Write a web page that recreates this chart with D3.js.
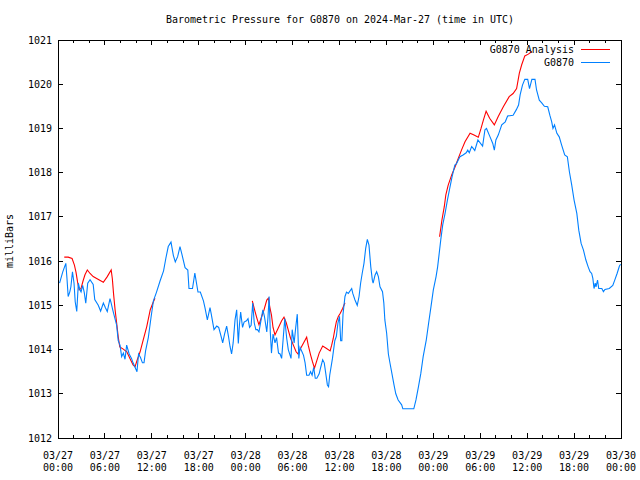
<!DOCTYPE html>
<html>
<head>
<meta charset="utf-8">
<script src="https://cdn.jsdelivr.net/npm/d3@7"></script>
<style>
  body { margin: 0; background: #fff; }
  text { font-family: "DejaVu Sans Mono", monospace; font-size: 10px; fill: #000; }
</style>
</head>
<body>
<div id="vis"></div>
<script>
// hours since 2024-03-27 00:00 UTC, pressure in mb
const stationHours = [0.2,0.6,1.0,1.15,1.3,1.5,1.65,1.85,2.05,2.2,2.4,2.6,2.8,2.95,3.15,3.35,3.55,3.8,4.1,4.5,4.7,5.15,5.45,5.8,6.05,6.3,6.65,6.8,7.0,7.5,7.7,7.93,8.14,8.36,8.57,8.78,9.1,9.4,9.6,9.85,10.1,10.3,10.55,10.8,11.0,11.2,11.55,11.9,12.2,12.6,13.05,13.5,13.8,14.1,14.45,14.75,15.0,15.3,15.6,15.85,16.25,16.6,16.75,17.2,17.5,17.9,18.2,18.6,18.8,
  19.1,19.44,19.6,19.95,20.3,20.55,20.9,21.06,21.3,21.57,21.8,22.0,22.2,22.4,22.64,22.85,23.06,23.2,23.36,23.6,23.8,24.1,24.3,24.5,24.7,24.9,25.1,25.3,25.5,25.7,26.0,26.2,26.4,26.7,26.85,27.0,27.15,27.3,27.5,27.75,27.95,28.2,28.4,28.6,28.8,29.0,29.25,29.45,29.8,29.95,30.2,30.4,30.6,30.8,30.95,31.2,31.4,31.6,31.8,32.1,32.3,32.5,32.7,32.9,33.1,33.4,33.6,33.85,34.05,34.25,34.45,34.6,34.75,35.1,35.4,35.6,35.8,36.0,36.15,36.3,36.45,36.7,36.9,
  37.13,37.56,37.7,37.98,38.27,38.5,38.7,38.9,39.13,39.35,39.56,39.77,40.0,40.2,40.3,40.54,40.75,40.97,41.18,41.5,41.67,41.8,42.03,42.25,42.46,42.7,42.97,43.2,43.5,43.95,44.1,45.5,45.78,46.1,46.4,46.7,47.1,47.4,47.7,48.0,48.35,48.55,48.8,48.95,49.2,49.5,49.8,50.1,50.4,50.75,50.95,51.4,51.8,52.2,52.4,52.6,52.9,53.1,53.3,53.5,53.7,54.3,54.6,54.8,
  55.25,55.6,55.8,56.0,56.3,56.75,57.2,57.5,58.2,58.6,58.9,59.1,59.4,59.7,60.07,60.3,60.6,61.0,61.2,61.55,61.86,62.2,62.63,62.9,63.14,63.3,63.5,63.8,64.1,64.4,64.8,65.14,65.4,65.7,66.0,66.35,66.6,66.9,67.2,67.5,67.8,68.04,68.25,68.4,68.55,68.7,68.8,69.0,69.15,69.55,69.75,69.95,70.5,70.95,71.2,71.5,71.8,71.95]
const stationPress = [1015.5,1015.75,1015.95,1015.6,1015.2,1015.3,1015.42,1015.76,1015.5,1015.08,1014.86,1015.5,1015.35,1015.3,1015.45,1015.3,1015.05,1015.5,1015.58,1015.47,1015.13,1015.0,1014.87,1015.05,1014.95,1014.86,1015.15,1015.05,1014.9,1014.55,1014.2,1014.1,1013.84,1013.92,1013.78,1014.1,1013.9,1013.8,1013.7,1013.6,1013.5,1013.9,1013.82,1013.7,1013.7,1013.97,1014.27,1014.73,1015.1,1015.3,1015.55,1015.78,1016.07,1016.33,1016.43,1016.13,1015.98,1016.1,1016.33,1016.15,1015.85,1015.8,1015.38,1015.38,1015.73,1015.3,1015.3,1015.1,1014.94,
  1014.67,1014.95,1014.8,1014.45,1014.53,1014.5,1014.27,1014.15,1014.35,1014.53,1014.3,1014.07,1013.9,1014.15,1014.67,1014.9,1014.14,1014.55,1014.85,1014.5,1014.62,1014.65,1014.7,1014.5,1014.55,1015.05,1014.6,1014.45,1014.45,1014.4,1014.7,1014.9,1014.75,1014.4,1014.72,1015.2,1014.4,1013.92,1014.35,1014.15,1014.27,1013.92,1013.9,1013.8,1014.25,1014.7,1014.25,1014.0,1013.8,1014.45,1014.15,1014.5,1014.8,1013.8,1014.05,1013.95,1013.87,1013.7,1013.42,1013.42,1013.5,1013.42,1013.6,1013.35,1013.35,1013.45,1013.6,1013.77,1013.7,1013.45,1013.2,1013.16,1013.42,1013.8,1014.2,1014.3,1014.6,1014.75,1014.2,1014.2,1014.8,1015.2,1015.3,
  1015.27,1015.38,1015.27,1015.12,1015.0,1015.2,1015.5,1015.72,1015.95,1016.29,1016.49,1016.36,1015.87,1015.57,1015.5,1015.68,1015.76,1015.65,1015.42,1015.31,1015.05,1014.67,1014.37,1013.9,1013.69,1013.46,1013.2,1013.0,1012.86,1012.75,1012.66,1012.66,1012.86,1013.16,1013.46,1013.84,1014.22,1014.6,1014.97,1015.35,1015.65,1015.87,1016.25,1016.48,1016.82,1017.08,1017.38,1017.65,1017.91,1018.17,1018.2,1018.36,1018.4,1018.45,1018.51,1018.45,1018.59,1018.55,1018.5,1018.62,1018.74,1018.6,1018.97,1019.0,
  1018.81,1018.66,1018.51,1018.74,1018.85,1019.08,1019.15,1019.28,1019.3,1019.42,1019.53,1019.76,1019.98,1020.11,1020.11,1019.9,1020.11,1020.11,1019.87,1019.64,1019.58,1019.5,1019.49,1019.3,1019.15,1019.0,1019.08,1018.89,1018.81,1018.63,1018.4,1018.36,1018.02,1017.72,1017.38,1017.08,1016.7,1016.4,1016.25,1016.03,1015.87,1015.76,1015.72,1015.61,1015.38,1015.5,1015.42,1015.57,1015.38,1015.38,1015.31,1015.36,1015.38,1015.45,1015.57,1015.72,1015.89,1015.93]

// analysis series, null = gap
const analysisHours = [0.8,1.3,1.8,2.1,2.3,2.5,2.7,2.94,3.2,3.45,3.75,4.1,4.5,5.0,5.8,6.3,6.8,6.95,7.1,7.3,7.5,7.7,7.9,8.35,8.8,9.2,9.6,9.85,10.1,10.5,10.9,11.35,11.8,12.2,12.4,
  18.0,
  24.85,25.2,25.45,25.7,26.0,26.35,26.7,26.9,27.1,27.3,27.5,27.75,28.2,28.6,28.9,29.2,29.45,29.75,30.1,30.45,30.7,31.0,31.4,31.8,32.0,32.3,32.55,32.8,33.1,33.4,33.85,34.3,34.8,35.0,35.2,35.4,35.6,35.85,36.1,36.4,36.7,
  42.0,
  48.8,49.1,49.4,49.6,49.9,50.35,50.8,51.2,51.6,52.05,52.7,53.2,53.75,54.1,54.4,54.75,55.2,55.8,56.3,56.95,57.7,58.2,58.65,59.0,59.3,59.7,60.15,60.6]
const analysisPress = [1016.09,1016.09,1016.06,1015.91,1015.75,1015.53,1015.35,1015.38,1015.55,1015.69,1015.8,1015.72,1015.65,1015.6,1015.52,1015.65,1015.8,1015.6,1015.27,1014.9,1014.6,1014.29,1014.06,1014.01,1013.95,1013.8,1013.65,1013.61,1013.75,1013.95,1014.22,1014.52,1014.9,1015.08,1015.16,
  null,
  1015.1,1014.86,1014.7,1014.56,1014.72,1014.9,1015.12,1015.16,1014.95,1014.78,1014.5,1014.33,1014.5,1014.65,1014.73,1014.6,1014.44,1014.25,1014.1,1013.95,1013.9,1014.02,1014.15,1014.28,1014.1,1013.88,1013.72,1013.58,1013.75,1013.92,1014.08,1014.03,1013.97,1014.1,1014.25,1014.45,1014.63,1014.75,1014.82,1014.93,1015.06,
  null,
  1016.55,1016.93,1017.23,1017.5,1017.72,1017.95,1018.14,1018.33,1018.51,1018.7,1018.89,1018.85,1018.8,1019.0,1019.19,1019.39,1019.23,1019.08,1019.27,1019.49,1019.72,1019.79,1019.9,1020.25,1020.44,1020.64,1020.68,1020.74]

const yTicks = [1012,1013,1014,1015,1016,1017,1018,1019,1020,1021]

const width = 640
const height = 480
const margin = ({ top: 40, right: 19, bottom: 42, left: 58 })
const t0 = Date.UTC(2024, 2, 27)
const toDate = h => new Date(t0 + h * 3600e3)

const x = d3.scaleUtc()
  .domain([toDate(0), toDate(72)])
  .range([margin.left, width - margin.right])

const y = d3.scaleLinear()
  .domain([1012, 1021])
  .range([height - margin.bottom, margin.top])

const svg = d3.select("#vis").append("svg")
  .attr("width", width)
  .attr("height", height)

// title
svg.append("text")
  .attr("x", 340)
  .attr("y", 23)
  .attr("text-anchor", "middle")
  .attr("textLength", 348)
  .attr("lengthAdjust", "spacingAndGlyphs")
  .text("Barometric Pressure for G0870 on 2024-Mar-27 (time in UTC)")

// y label
svg.append("text")
  .attr("transform", "translate(13,241) rotate(-90)")
  .attr("text-anchor", "middle")
  .text("milliBars")

const ticks = svg.append("g")
  .attr("stroke", "#000")
  .attr("shape-rendering", "crispEdges")

// x ticks, major every 6h, minor every 2h, mirrored on top
const minor = d3.range(0, 73, 2).filter(h => h % 6 != 0).map(toDate)
const major = d3.range(0, 73, 6).map(toDate)
ticks.selectAll(".xmin")
  .data(minor)
  .join("path")
  .attr("d", d => `M${x(d)},${y(1012)}v-3M${x(d)},${y(1021)}v3`)
ticks.selectAll(".xmaj")
  .data(major)
  .join("path")
  .attr("d", d => `M${x(d)},${y(1012)}v-5M${x(d)},${y(1021)}v5`)
ticks.selectAll(".ytick")
  .data(yTicks)
  .join("path")
  .attr("d", d => `M${margin.left},${y(d)}h5M${width - margin.right},${y(d)}h-5`)

// frame
svg.append("rect")
  .attr("x", margin.left)
  .attr("y", margin.top)
  .attr("width", width - margin.left - margin.right)
  .attr("height", height - margin.top - margin.bottom)
  .attr("fill", "none")
  .attr("stroke", "#000")
  .attr("shape-rendering", "crispEdges")

// y tick labels
svg.append("g")
  .selectAll("text")
  .data(yTicks)
  .join("text")
  .attr("x", margin.left - 6)
  .attr("y", d => y(d))
  .attr("dy", "0.35em")
  .attr("text-anchor", "end")
  .text(d => d)

// x tick labels, two lines
const fmtDay = d3.utcFormat("%m/%d")
const fmtTime = d3.utcFormat("%H:%M")
const xl = svg.append("g")
  .selectAll("text")
  .data(major)
  .join("text")
  .attr("text-anchor", "middle")
  .attr("y", 459)
xl.append("tspan").attr("x", d => x(d)).text(d => fmtDay(d))
xl.append("tspan").attr("x", d => x(d)).attr("dy", 12).text(d => fmtTime(d))

const line = d3.line()
  .defined(d => d[1] != null)
  .x(d => x(toDate(d[0])))
  .y(d => y(d[1]))

const analysis = analysisHours.map((h, i) => [h, analysisPress[i]])
const station = stationHours.map((h, i) => [h, stationPress[i]])

svg.append("path")
  .datum(analysis)
  .attr("fill", "none")
  .attr("stroke", "#ff0000")
  .attr("stroke-width", 1.1)
  .attr("d", line)

svg.append("path")
  .datum(station)
  .attr("fill", "none")
  .attr("stroke", "#0080ff")
  .attr("stroke-width", 1.1)
  .attr("d", line)

// legend
const legend = [["G0870 Analysis", "#ff0000"], ["G0870", "#0080ff"]]
const lg = svg.append("g")
  .selectAll("g")
  .data(legend)
  .join("g")
  .attr("transform", (d, i) => `translate(0,${49 + i * 13})`)
lg.append("text")
  .attr("x", 574)
  .attr("dy", "0.35em")
  .attr("text-anchor", "end")
  .text(d => d[0])
lg.append("path")
  .attr("d", "M581,0.5H610")
  .attr("stroke", d => d[1])
  .attr("shape-rendering", "crispEdges")
</script>
</body>
</html>
